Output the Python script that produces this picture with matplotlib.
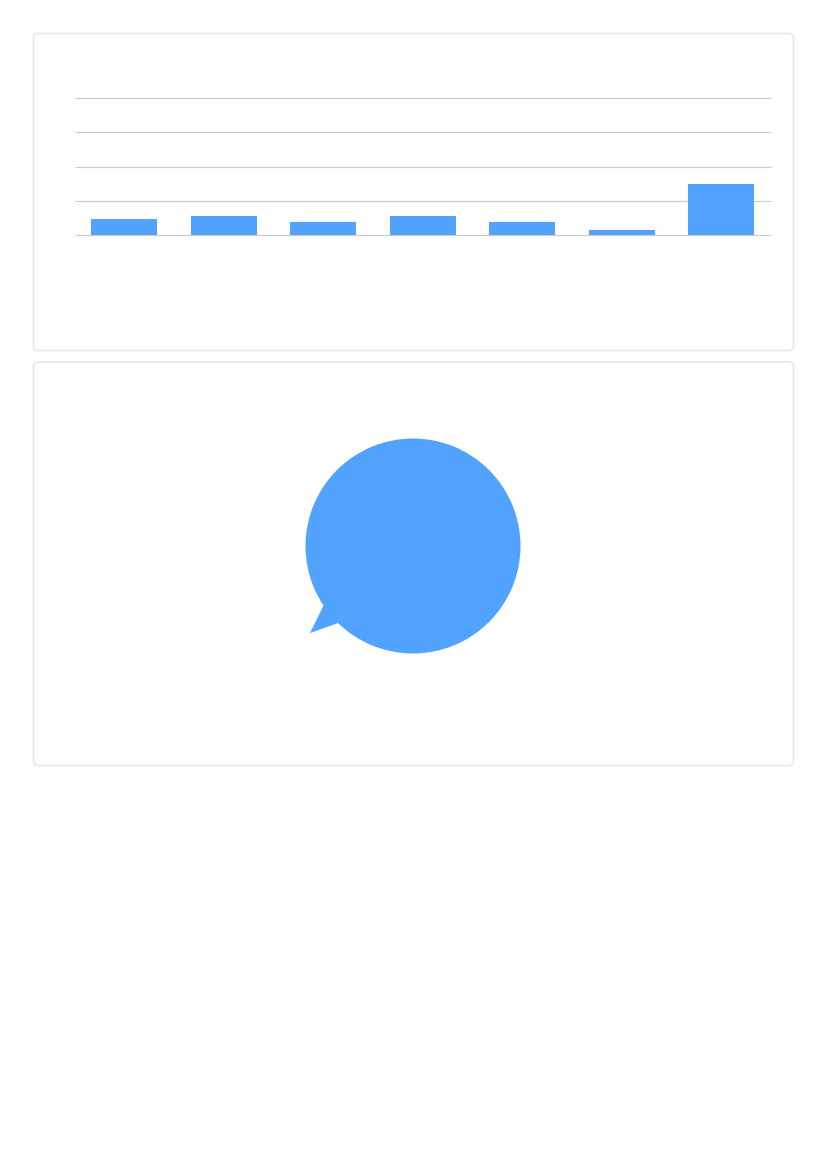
import numpy as np
import matplotlib.pyplot as plt
from matplotlib.patches import FancyBboxPatch, Polygon

W, H = 826, 1169

# bar chart values, gridlines every 10
bar_values = [4.8, 5.6, 4.0, 5.6, 4.0, 1.7, 15.0]
y_ticks = [0, 10, 20, 30, 40]

# the pie has one slice, with a pointer at its lower left
pie_values = [100]
pointer_angles = [213.5, 220.2, 225.8]
pointer_radii = [0.995, 1.255, 1.0]

blue = '#52a3ff'
grid = '#cccccc'
card_edge = '#e6e9ee'


def px_axes(fig, left, top, right, bottom):
    return fig.add_axes([left / W, 1 - bottom / H, (right - left) / W, (bottom - top) / H])


fig = plt.figure(figsize=(W / 100, H / 100), dpi=100, facecolor='white')

# cards behind the charts
bg = fig.add_axes([0, 0, 1, 1])
bg.set_xlim(0, W)
bg.set_ylim(H, 0)
bg.axis('off')
for top, bottom in [(33.5, 350.5), (362, 765.5)]:
    bg.add_patch(FancyBboxPatch((38.5, top + 5), 750, bottom - top - 10,
                                boxstyle='round,pad=5,rounding_size=5',
                                fc='white', ec=card_edge, lw=1.3))

# bars
ax = px_axes(fig, 74.5, 98, 771, 235.5)
ax.bar(range(len(bar_values)), bar_values, width=0.667, color=blue, zorder=3)
ax.set_xlim(-0.5, len(bar_values) - 0.5)
ax.set_ylim(y_ticks[0], y_ticks[-1])
ax.set_yticks(y_ticks)
ax.set_xticks([])
ax.tick_params(left=False, labelleft=False)
ax.grid(axis='y', color=grid, lw=0.9, zorder=1)
ax.patch.set_alpha(0)
for s in ax.spines.values():
    s.set_visible(False)
for line in ax.get_ygridlines():
    line.set_clip_on(False)
    line.set_solid_capstyle('butt')

# pie
ax2 = px_axes(fig, 305.5, 438.5, 520.5, 653.5)
ax2.pie(pie_values, colors=[blue], radius=1, center=(0, 0), startangle=90)
tip = [(r * np.cos(np.radians(a)), r * np.sin(np.radians(a)))
       for a, r in zip(pointer_angles, pointer_radii)]
ax2.add_patch(Polygon(tip, closed=True, fc=blue, ec='none', clip_on=False))
ax2.set_xlim(-1, 1)
ax2.set_ylim(-1, 1)
ax2.set_aspect('equal')
ax2.axis('off')

fig.savefig('out.png', dpi=100)
